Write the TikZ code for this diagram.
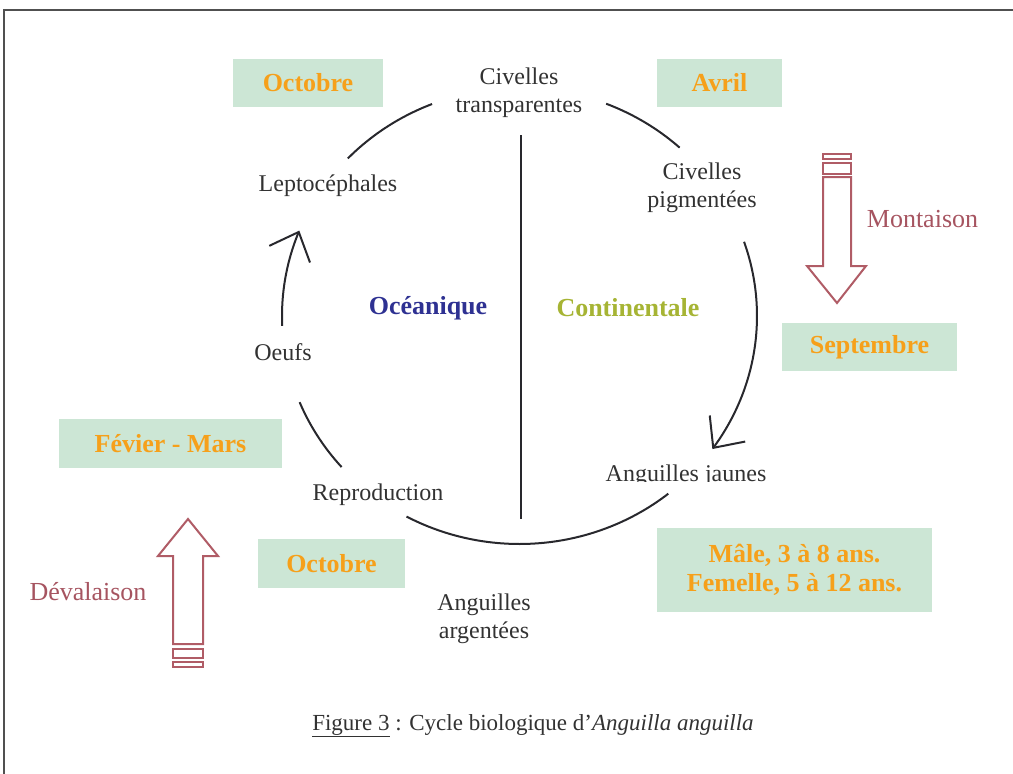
\documentclass[tikz,border=0pt]{standalone}
\usepackage{fontspec}
\setmainfont{Liberation Serif}
\usetikzlibrary{arrows.meta}
\definecolor{txt}{RGB}{50,50,50}
\definecolor{cycline}{RGB}{40,40,45}
\definecolor{frame}{RGB}{80,80,80}
\definecolor{boxgreen}{RGB}{204,230,213}
\definecolor{monthorange}{RGB}{246,160,26}
\definecolor{oceanblue}{RGB}{46,49,146}
\definecolor{contolive}{RGB}{166,180,52}
\definecolor{migred}{RGB}{166,84,96}
\definecolor{blkred}{RGB}{176,92,102}
\begin{document}
\begin{tikzpicture}[x=1pt,y=-1pt,
  lbl/.style={font=\fontsize{24}{28}\selectfont, text=txt, align=center, inner sep=0pt},
  monthbox/.style={fill=boxgreen, text=monthorange, font=\bfseries\fontsize{26}{29}\selectfont, align=center, inner sep=0pt},
  zone/.style={font=\bfseries\fontsize{26}{29}\selectfont, inner sep=0pt},
  mig/.style={font=\fontsize{26}{29}\selectfont, text=migred, inner sep=0pt},
  cyc/.style={line width=2pt, draw=cycline},
  cycarrow/.style={cyc, -{Straight Barb[length=24pt,width=44pt]}},
  blk/.style={line width=2pt, draw=blkred, line join=miter},
  frm/.style={line width=2.5pt, draw=frame}]
\useasboundingbox (0,0) rectangle (1013,774);
% frame (right and bottom sides lie outside the picture)
\draw[frm] (4,780) -- (4,10) -- (1020,10);

% month boxes
\node[monthbox, minimum width=150pt, minimum height=48pt] (octtop) at (308,83) {Octobre};
\node[monthbox, minimum width=125pt, minimum height=48pt] (avril) at (719.5,83) {Avril};
\node[monthbox, minimum width=175pt, minimum height=48pt] (sept) at (869.5,347) {Septembre};
\node[monthbox, minimum width=223pt, minimum height=49pt] (fevmars) at (170.5,443.5) {Févier - Mars};
\node[monthbox, minimum width=147pt, minimum height=49pt] (octbot) at (331.5,563.5) {Octobre};
\node[monthbox, minimum width=275pt, minimum height=84pt] (age) at (794.5,570) {Mâle, 3 à 8 ans.\\Femelle, 5 à 12 ans.};

% stage labels
\node[lbl] (civtr) at (519,93) {Civelles\\transparentes};
\node[lbl, anchor=base] (lepto) at (328,191) {Leptocéphales};
\node[lbl] (civpig) at (702,188) {Civelles\\pigmentées};
\node[lbl, anchor=base] (oeufs) at (283,360) {Oeufs};
\node[lbl, anchor=base] (repro) at (378,500) {Reproduction};
\node[lbl] (argent) at (484,619) {Anguilles\\argentées};
\begin{scope}
  \clip (580,440) rectangle (800,481.5);
  \node[lbl, anchor=base] (jaunes) at (686,481) {Anguilles jaunes};
\end{scope}

% zones
\node[zone, text=oceanblue, anchor=base] (ocean) at (428,314) {Océanique};
\node[zone, text=contolive, anchor=base] (conti) at (628,316) {Continentale};

% cycle
\draw[cyc] plot[domain=111.6:136.3, samples=30, variable=\t] ({519.5+237.5*cos(\t)},{316-228*sin(\t)});
\draw[cyc] plot[domain=47.6:68.6, samples=30, variable=\t] ({519.5+237.5*cos(\t)},{316-228*sin(\t)});
\draw[cycarrow] plot[domain=19:-35.7, samples=60, variable=\t] ({519.5+237.5*cos(\t)},{316-228*sin(\t)});
\draw[cyc] plot[domain=-51.2:-118.4, samples=60, variable=\t] ({519.5+237.5*cos(\t)},{316-228*sin(\t)});
\draw[cyc] plot[domain=221.5:202.2, samples=30, variable=\t] ({519.5+237.5*cos(\t)},{316-228*sin(\t)});
\draw[cycarrow] plot[domain=182.5:158, samples=40, variable=\t] ({519.5+237.5*cos(\t)},{316-228*sin(\t)});

% divider
\coordinate (vtop) at (521,135);
\coordinate (vbot) at (521,519);
\draw[cyc] (vtop) -- (vbot);

% Montaison block arrow
\draw[blk] (823,154) rectangle (851,159);
\draw[blk] (823,163) rectangle (851,174);
\draw[blk] (823,177) -- (823,266) -- (807,266) -- (837,303) -- (866,266) -- (851,266) -- (851,177) -- cycle;
\node[mig, anchor=base] (mont) at (922.5,227) {Montaison};

% Devalaison block arrow
\draw[blk] (173,644) -- (173,556) -- (158,556) -- (188,519) -- (218,556) -- (203,556) -- (203,644) -- cycle;
\draw[blk] (173,649) rectangle (203,658);
\draw[blk] (173,662) rectangle (203,667);
\node[mig, anchor=base] (deval) at (88,600) {Dévalaison};

% caption
\node[font=\fontsize{23}{27}\selectfont, text=txt, inner sep=0pt, anchor=base] (cap) at (533,730)
  {\underline{Figure 3} : Cycle biologique d’\textit{Anguilla anguilla}};
\end{tikzpicture}
\end{document}
